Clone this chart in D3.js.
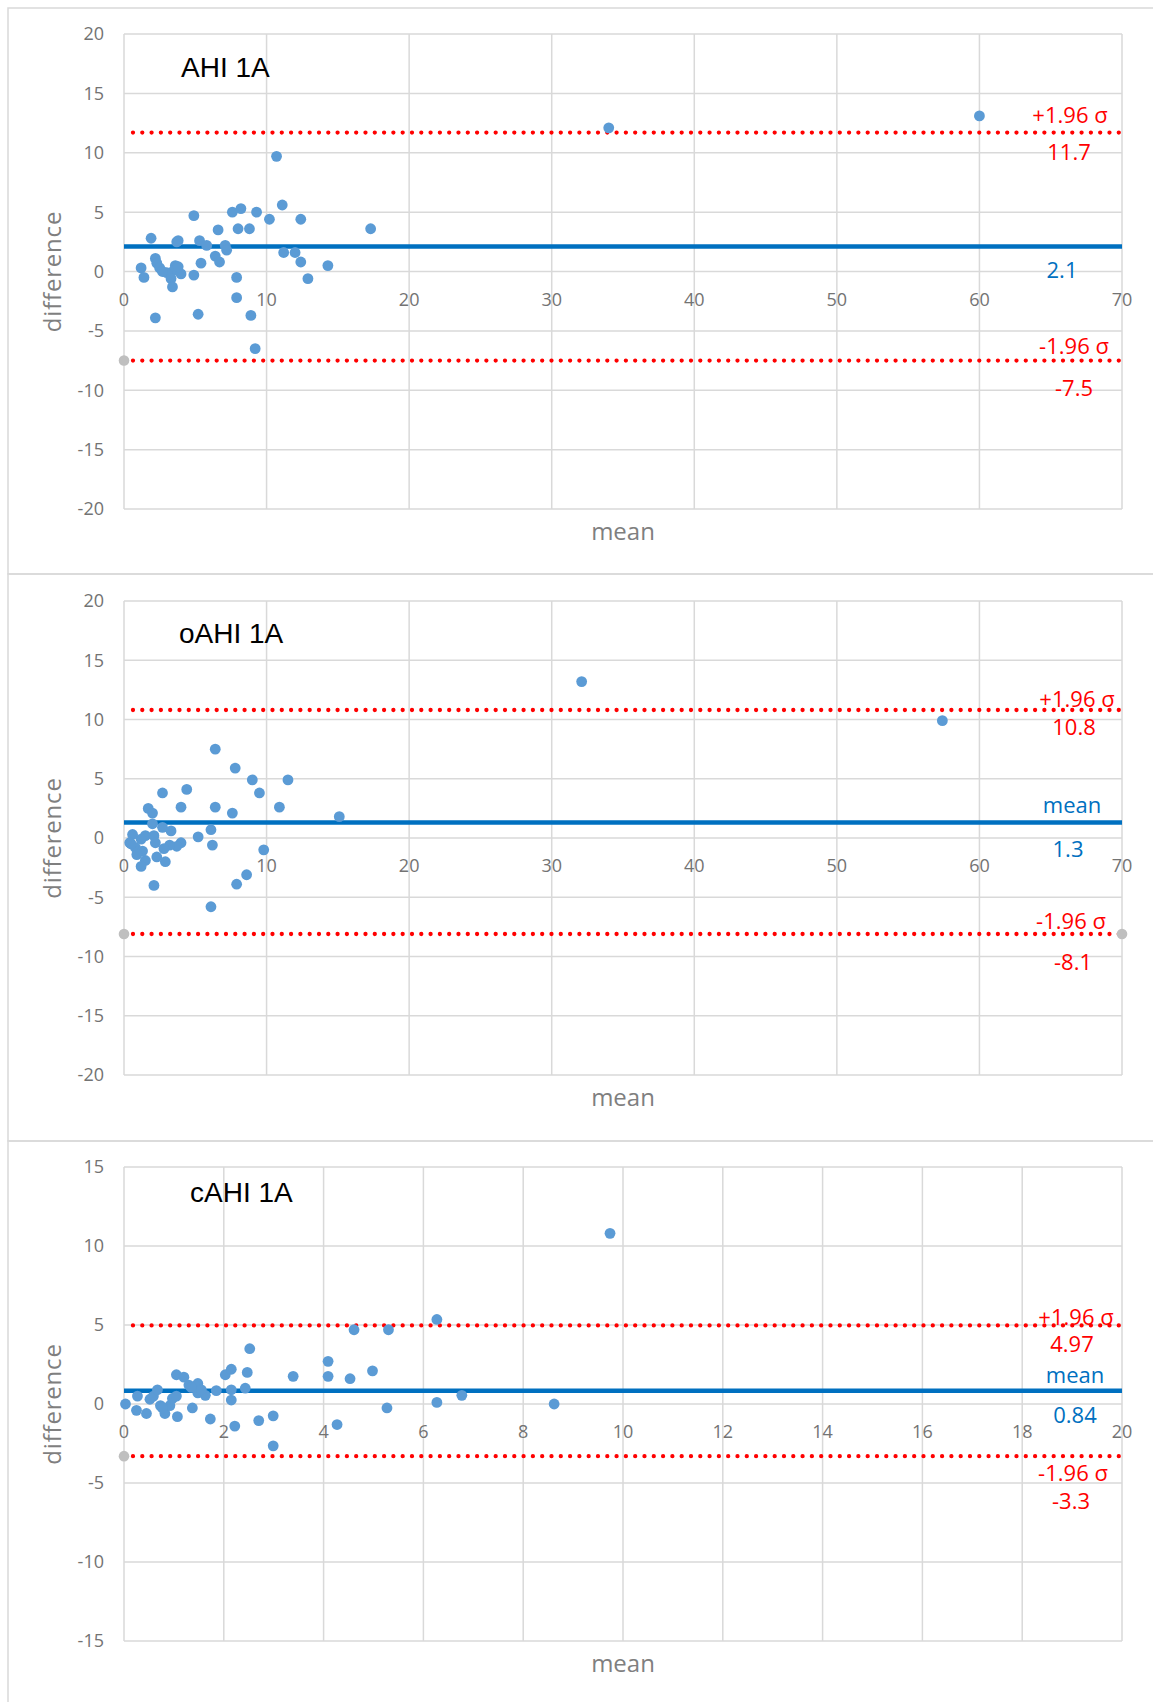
<!DOCTYPE html>
<html>
<head>
<meta charset="utf-8">
<script src="https://cdnjs.cloudflare.com/ajax/libs/d3/7.8.5/d3.min.js"></script>
<style>
  body { margin: 0; background: #fff; }
  text { font-family: "Open Sans", sans-serif; }
</style>
</head>
<body>
<div class="chart"></div>
<script>
// data: [mean, difference] per panel
const ahiPoints = [[10.7, 9.7], [11.1, 5.6], [4.9, 4.7], [7.6, 5.0], [8.2, 5.3], [9.3, 5.0], [10.2, 4.4],
  [12.4, 4.4], [6.6, 3.5], [8.0, 3.6], [8.8, 3.6], [17.3, 3.6], [1.9, 2.8], [3.7, 2.5], [3.8, 2.6],
  [5.3, 2.6], [5.8, 2.2], [7.1, 2.2], [7.2, 1.8], [6.4, 1.3], [6.7, 0.8], [5.4, 0.7], [11.2, 1.6],
  [12.0, 1.6], [12.4, 0.8], [14.3, 0.5], [12.9, -0.6], [2.2, 1.1], [2.3, 0.7], [2.5, 0.3], [1.2, 0.3],
  [1.4, -0.5], [3.6, 0.5], [3.5, 0.1], [3.0, -0.1], [3.3, -0.6], [4.0, -0.2], [3.4, -1.3], [4.9, -0.3],
  [7.9, -0.5], [7.9, -2.2], [2.2, -3.9], [5.2, -3.6], [8.9, -3.7], [9.2, -6.5], [2.7, 0.0], [3.8, 0.4],
  [34.0, 12.1], [60.0, 13.1]];
const oahiPoints = [[6.4, 7.5], [7.8, 5.9], [9.0, 4.9], [11.5, 4.9], [9.5, 3.8], [2.7, 3.8], [4.4, 4.1],
  [4.0, 2.6], [6.4, 2.6], [10.9, 2.6], [7.6, 2.1], [15.1, 1.8], [1.7, 2.5], [2.0, 2.1], [2.0, 1.2],
  [2.7, 0.9], [3.3, 0.6], [6.1, 0.7], [5.2, 0.1], [6.2, -0.6], [9.8, -1.0], [4.0, -0.4], [3.7, -0.7],
  [3.2, -0.6], [2.8, -0.9], [2.3, -1.6], [2.9, -2.0], [1.5, -1.9], [1.2, -2.4], [2.1, 0.2], [2.2, -0.4],
  [1.5, 0.2], [1.2, -0.1], [0.6, 0.3], [0.4, -0.4], [0.8, -0.8], [1.3, -1.1], [0.9, -1.4], [2.1, -4.0],
  [7.9, -3.9], [8.6, -3.1], [6.1, -5.8], [0.5, -0.5], [32.1, 13.2], [57.4, 9.9]];
const cahiPoints = [[0.03, 0.0], [0.27, 0.5], [0.25, -0.4], [0.45, -0.6], [0.52, 0.3], [0.59, 0.5],
  [0.67, 0.9], [0.73, -0.1], [0.82, -0.6], [0.92, -0.1], [0.97, 0.35], [1.05, 0.5], [1.07, -0.8],
  [1.05, 1.85], [1.2, 1.7], [1.3, 1.2], [1.48, 1.3], [1.48, 0.7], [1.63, 0.55], [1.37, -0.25],
  [1.73, -0.95], [1.85, 0.85], [2.03, 1.85], [2.15, 2.2], [2.15, 0.9], [2.15, 0.25], [2.22, -1.4],
  [2.43, 1.0], [2.47, 2.0], [2.52, 3.5], [2.7, -1.05], [2.99, -0.75], [2.99, -2.65], [3.39, 1.75],
  [4.09, 2.7], [4.09, 1.75], [4.27, -1.3], [4.53, 1.6], [4.61, 4.7], [4.98, 2.1], [5.3, 4.7],
  [5.27, -0.25], [6.27, 5.35], [6.27, 0.1], [6.77, 0.55], [8.62, 0.0], [9.74, 10.8], [0.77, -0.25],
  [1.35, 1.05], [1.55, 0.9]];

const titles = ["AHI 1A", "oAHI 1A", "cAHI 1A"];
// upper limit, mean, lower limit
const ahiLimits = [11.7, 2.1, -7.5];
const oahiLimits = [10.8, 1.3, -8.1];
const cahiLimits = [4.97, 0.84, -3.3];
const ahiLimitLabels = ["11.7", "2.1", "-7.5"];
const oahiLimitLabels = ["10.8", "1.3", "-8.1"];
const cahiLimitLabels = ["4.97", "0.84", "-3.3"];
// grey end markers of the lower limit series (x positions)
const ahiGrey = [0];
const oahiGrey = [0, 70];
const cahiGrey = [0];

const xDomains = [[0, 70], [0, 70], [0, 20]];
const yDomains = [[-20, 20], [-20, 20], [-15, 15]];
const xTicks = [d3.range(0, 71, 10), d3.range(0, 71, 10), d3.range(0, 21, 2)];
const yTicks = [d3.range(-20, 21, 5), d3.range(-20, 21, 5), d3.range(-15, 16, 5)];

const svgWidth = 1153;
const svgHeight = 1702;

const svg = d3.select(".chart")
  .append("svg")
  .attr("width", svgWidth)
  .attr("height", svgHeight);

svg.append("rect")
  .attr("width", svgWidth)
  .attr("height", svgHeight)
  .attr("fill", "#fff");

// layout of each panel
const panels = [
  { frameTop: 8, frameBottom: 574, top: 34, bottom: 509, titleX: 181, titleY: 77,
    points: ahiPoints, limits: ahiLimits, labels: ahiLimitLabels, grey: ahiGrey, showMean: false,
    off: { upSig: [1070, -10], upVal: [1069, 27], meanTxt: [0, 0], meanVal: [1062, 31], loSig: [1074, -7], loVal: [1074, 35] } },
  { frameTop: 574, frameBottom: 1141, top: 601, bottom: 1075, titleX: 179, titleY: 643,
    points: oahiPoints, limits: oahiLimits, labels: oahiLimitLabels, grey: oahiGrey, showMean: true,
    off: { upSig: [1077, -3], upVal: [1074, 25], meanTxt: [1072, -10], meanVal: [1068, 34], loSig: [1071, -5], loVal: [1073, 36] } },
  { frameTop: 1141, frameBottom: 1720, top: 1167, bottom: 1641, titleX: 190, titleY: 1202,
    points: cahiPoints, limits: cahiLimits, labels: cahiLimitLabels, grey: cahiGrey, showMean: true,
    off: { upSig: [1076, 0], upVal: [1072, 27], meanTxt: [1075, -8], meanVal: [1075, 32], loSig: [1073, 25], loVal: [1071, 53] } }
];

const left = 124;
const right = 1122;
const red = "#FF0000";
const blue = "#0070C0";

panels.forEach((p, k) => {

  // panel frame
  svg.append("rect")
    .attr("x", 8)
    .attr("y", p.frameTop)
    .attr("width", svgWidth + 20)
    .attr("height", p.frameBottom - p.frameTop)
    .attr("fill", "none")
    .attr("stroke", "#D9D9D9")
    .attr("stroke-width", 1.5);

  const xScale = d3.scaleLinear().domain(xDomains[k]).range([left, right]);
  const yScale = d3.scaleLinear().domain(yDomains[k]).range([p.bottom, p.top]);

  const g = svg.append("g");

  // gridlines
  g.selectAll(".hgrid")
    .data(yTicks[k])
    .enter()
    .append("line")
    .attr("x1", left)
    .attr("x2", right)
    .attr("y1", d => yScale(d))
    .attr("y2", d => yScale(d))
    .attr("stroke", "#D9D9D9")
    .attr("stroke-width", 1.5);

  g.selectAll(".vgrid")
    .data(xTicks[k])
    .enter()
    .append("line")
    .attr("x1", d => xScale(d))
    .attr("x2", d => xScale(d))
    .attr("y1", p.top)
    .attr("y2", p.bottom)
    .attr("stroke", "#D9D9D9")
    .attr("stroke-width", 1.5);

  // y tick labels
  g.selectAll(".ylab")
    .data(yTicks[k])
    .enter()
    .append("text")
    .attr("x", 104)
    .attr("y", d => yScale(d))
    .attr("dy", "0.36em")
    .attr("text-anchor", "end")
    .attr("font-size", 18)
    .attr("fill", "#737373")
    .text(d => d);

  // x tick labels sit under the zero line
  g.selectAll(".xlab")
    .data(xTicks[k])
    .enter()
    .append("text")
    .attr("x", d => xScale(d))
    .attr("y", yScale(0) + 34)
    .attr("text-anchor", "middle")
    .attr("font-size", 18)
    .attr("fill", "#737373")
    .text(d => d);

  // axis titles
  g.append("text")
    .attr("x", (left + right) / 2)
    .attr("y", p.bottom + 31)
    .attr("text-anchor", "middle")
    .attr("font-size", 24)
    .attr("fill", "#7F7F7F")
    .text("mean");

  g.append("text")
    .attr("transform", `translate(61, ${(p.top + p.bottom) / 2}) rotate(-90)`)
    .attr("text-anchor", "middle")
    .attr("font-size", 24)
    .attr("letter-spacing", 0.8)
    .attr("fill", "#7F7F7F")
    .text("difference");

  // panel title
  g.append("text")
    .attr("x", p.titleX)
    .attr("y", p.titleY)
    .style("font-family", "'Liberation Sans', Arial, sans-serif")
    .attr("font-size", 28)
    .attr("fill", "#000")
    .text(titles[k]);

  const line = d3.line()
    .x(d => xScale(d[0]))
    .y(d => yScale(d[1]));
  const xEnds = xDomains[k];

  // mean line
  g.append("path")
    .attr("d", line(xEnds.map(x => [x, p.limits[1]])))
    .attr("fill", "none")
    .attr("stroke", blue)
    .attr("stroke-width", 4.5);

  // limits of agreement (dotted)
  [p.limits[0], p.limits[2]].forEach(v => {
    g.append("path")
      .attr("d", line([[xEnds[0] + (xEnds[1] - xEnds[0]) * 0.009, v], [xEnds[1], v]]))
      .attr("fill", "none")
      .attr("stroke", red)
      .attr("stroke-width", 4.3)
      .attr("stroke-linecap", "round")
      .attr("stroke-dasharray", "0 9.3");
  });

  // grey end markers
  g.selectAll(".grey")
    .data(p.grey)
    .enter()
    .append("circle")
    .attr("cx", d => xScale(d))
    .attr("cy", yScale(p.limits[2]))
    .attr("r", 5.3)
    .attr("fill", "#BFBFBF");

  // data points
  g.selectAll(".pt")
    .data(p.points)
    .enter()
    .append("circle")
    .attr("cx", d => xScale(d[0]))
    .attr("cy", d => yScale(d[1]))
    .attr("r", 5.4)
    .attr("fill", "#5B9BD5");

  // limit labels
  const addLabel = (txt, pos, v, color) => {
    g.append("text")
      .attr("x", pos[0])
      .attr("y", yScale(v) + pos[1])
      .attr("text-anchor", "middle")
      .attr("font-size", 22)
      .attr("fill", color)
      .text(txt);
  };
  addLabel("+1.96 σ", p.off.upSig, p.limits[0], red);
  addLabel(p.labels[0], p.off.upVal, p.limits[0], red);
  if (p.showMean) addLabel("mean", p.off.meanTxt, p.limits[1], blue);
  addLabel(p.labels[1], p.off.meanVal, p.limits[1], blue);
  addLabel("-1.96 σ", p.off.loSig, p.limits[2], red);
  addLabel(p.labels[2], p.off.loVal, p.limits[2], red);
});
</script>
</body>
</html>
